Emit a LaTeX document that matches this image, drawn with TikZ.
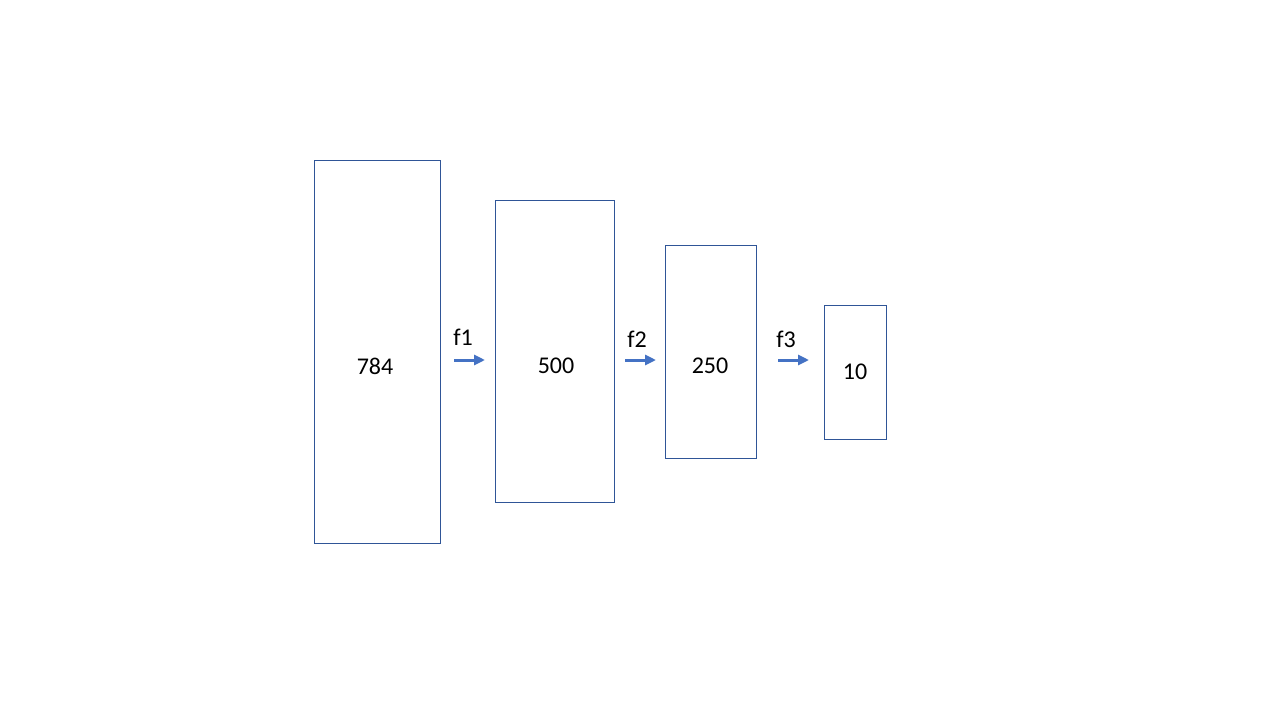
\documentclass[tikz,border=0pt]{standalone}
\usepackage{fontspec}
\setmainfont{Carlito}
\usetikzlibrary{arrows.meta}
\definecolor{boxline}{HTML}{2F5597}
\definecolor{arrowblue}{HTML}{4472C4}
\tikzset{
  layerbox/.style={draw=boxline, line width=1pt, fill=white},
  lbl/.style={font=\fontsize{24}{28}\selectfont, text=black, inner sep=0pt},
  flow/.style={draw=arrowblue, line width=3pt, -{Triangle[length=11pt,width=10pt]}},
}
\begin{document}
\begin{tikzpicture}[x=1pt,y=-1pt]
\useasboundingbox (0,0) rectangle (1280,720);
\fill[white] (0,0) rectangle (1280,720);
\draw[layerbox] (314,160) rectangle (440,543);
\draw[layerbox] (495,200) rectangle (614,502);
\draw[layerbox] (665,245) rectangle (756,458);
\draw[layerbox] (824,305) rectangle (886,439);
\node[lbl] (n784) at (375,366) {784};
\node[lbl] (n500) at (556,366) {500};
\node[lbl] (n250) at (710,366) {250};
\node[lbl] (n10) at (855,372) {10};
\node[lbl] (f1) at (463,337) {f1};
\node[lbl] (f2) at (637,339) {f2};
\node[lbl] (f3) at (786,339) {f3};
\coordinate (a1s) at (454,360); \coordinate (a1e) at (485,360);
\coordinate (a2s) at (625,360); \coordinate (a2e) at (656,360);
\coordinate (a3s) at (778,360); \coordinate (a3e) at (809,360);
\draw[flow] (a1s) -- (a1e);
\draw[flow] (a2s) -- (a2e);
\draw[flow] (a3s) -- (a3e);
\end{tikzpicture}
\end{document}
